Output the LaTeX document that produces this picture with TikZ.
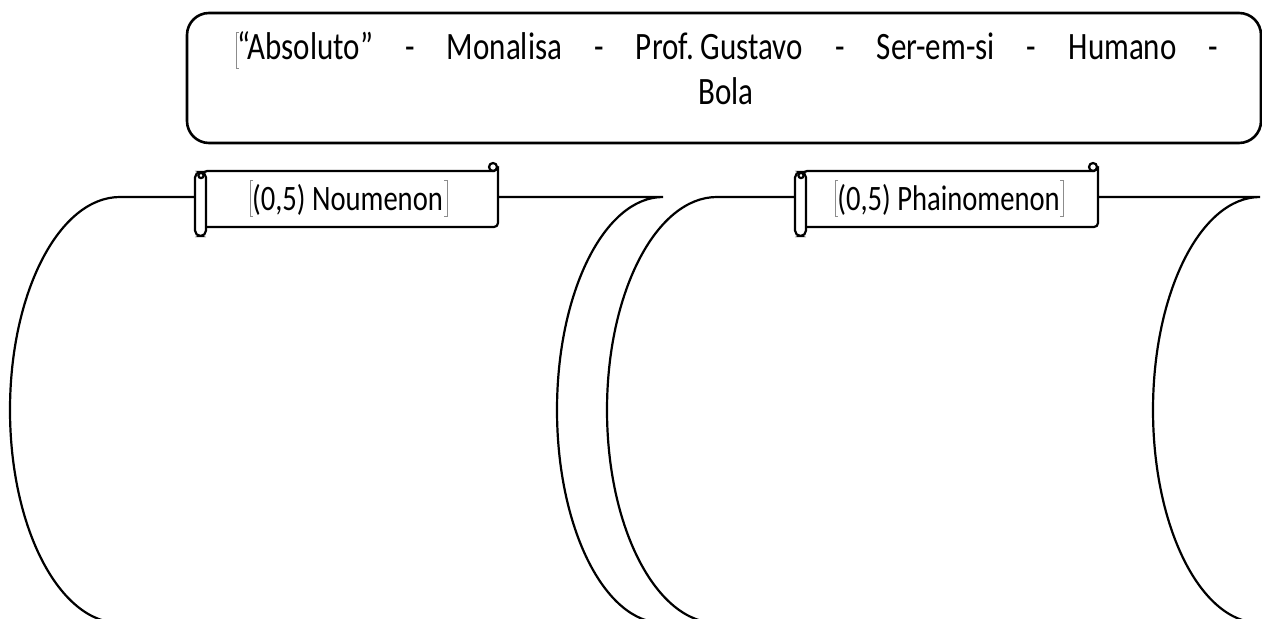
\documentclass[tikz,border=0pt]{standalone}
\usepackage{fontspec}
\setmainfont{Carlito}
\usetikzlibrary{calc}
\begin{document}
\begin{tikzpicture}[x=0.5bp,y=-0.5bp,
  outl/.style={draw=black,line width=1.1bp},
  boxline/.style={draw=black,line width=1.3bp},
  scrline/.style={draw=black,line width=1.1bp,fill=white},
  brk/.style={draw=black!45,line width=0.35bp},
  maintext/.style={inner sep=0pt,font=\fontsize{15.5bp}{18bp}\selectfont},
  bantext/.style={inner sep=0pt,font=\fontsize{14.3bp}{17bp}\selectfont},
  scrollpic/.pic={
    \path[scrline] (8,171) -- (299,171) -- (303,168)
      [rounded corners=2bp] -- (303,227) -- (8,227) -- cycle;
    \path[scrline] (298,167) circle[radius=2bp];
    \path[scrline,rounded corners=2.75bp] (0,172) rectangle (11,236);
    \path[scrline] (6,175.5) circle[radius=1.3bp];
  }]
\useasboundingbox (0,0) rectangle (1262,619);

% stored-data shapes
\draw[outl] (120,197) -- (663,197)
  arc[start angle=-90,end angle=-270,x radius=106,y radius=213]
  -- (120,623)
  arc[start angle=90,end angle=270,x radius=110,y radius=213] -- cycle;
\draw[outl] (717,197) -- (1260,197)
  arc[start angle=-90,end angle=-270,x radius=107,y radius=213]
  -- (717,623)
  arc[start angle=90,end angle=270,x radius=110,y radius=213] -- cycle;

% top rounded box
\draw[boxline,rounded corners=11bp] (187,13) rectangle (1261,143);
\node[maintext,anchor=base west] (line1) at (237,60)
  {\scalebox{1}[1.25]{\hbox to 490.5bp{“Absoluto”\hfill-\hfill Monalisa\hfill-\hfill Prof.~Gustavo\hfill-\hfill Ser-em-si\hfill-\hfill Humano\hfill-}}};
\node[maintext,anchor=base] (line2) at (726,105) {\scalebox{1}[1.25]{Bola}};
\draw[brk] (239,32) -- (236,32) -- (236,68) -- (239,68);

% scrolls
\pic at (195,0) {scrollpic};
\pic at (795,0) {scrollpic};

\node[bantext,anchor=base] (nou) at (347.5,210) {\scalebox{1}[1.25]{(0,5) Noumenon}};
\node[bantext,anchor=base] (pha) at (948.5,210) {\scalebox{1}[1.25]{(0,5) Phainomenon}};
\draw[brk] (253,180) -- (250,180) -- (250,216) -- (253,216);
\draw[brk] (444,180) -- (447,180) -- (447,216) -- (444,216);
\draw[brk] (838,180) -- (835,180) -- (835,216) -- (838,216);
\draw[brk] (1060,180) -- (1063,180) -- (1063,216) -- (1060,216);
\end{tikzpicture}
\end{document}
